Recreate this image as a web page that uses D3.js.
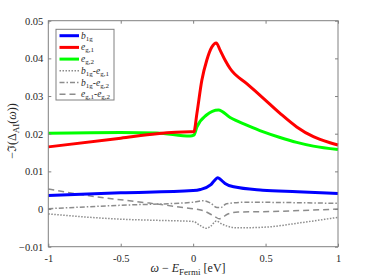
<!DOCTYPE html>
<html>
<head>
<meta charset="utf-8">
<script src="https://cdn.jsdelivr.net/npm/d3@7"></script>
<style>
  body { margin: 0; background: #fff; }
  text { font-family: "Liberation Serif", "DejaVu Serif", serif; fill: #262626; }
</style>
</head>
<body>
<div id="chart"></div>
<script>
var xTicks = [-1, -0.5, 0, 0.5, 1];
var yTicks = [-0.01, 0, 0.01, 0.02, 0.03, 0.04, 0.05];

var b1gX = [-1, -0.5, 0, 0.05, 0.12, 0.15, 0.17, 0.19, 0.22, 0.28, 0.48, 0.72, 1];
var b1gY = [0.0036, 0.0043, 0.0049, 0.0052, 0.0064, 0.0077, 0.0083, 0.0078, 0.0068, 0.0059, 0.0050, 0.0046, 0.0041];

var eg1X = [-1, -0.5, -0.25, -0.02, 0.005, 0.026, 0.06, 0.094, 0.129, 0.159, 0.186, 0.221, 0.255, 0.37, 0.485, 0.6, 0.715, 0.83, 0.945, 1];
var eg1Y = [0.0165, 0.0188, 0.0200, 0.0205, 0.0205, 0.0254, 0.0342, 0.0395, 0.0430, 0.0441, 0.0422, 0.0395, 0.0373, 0.0333, 0.0294, 0.0254, 0.0218, 0.0192, 0.0176, 0.0170];

var eg2X = [-1, -0.5, -0.25, -0.02, 0.005, 0.026, 0.09, 0.175, 0.255, 0.37, 0.485, 0.6, 0.715, 0.83, 1];
var eg2Y = [0.0201, 0.0203, 0.0202, 0.0194, 0.0196, 0.0218, 0.0249, 0.0263, 0.0243, 0.0223, 0.0205, 0.0190, 0.0177, 0.0167, 0.0158];

var d1X = [-1, -0.75, -0.5, -0.25, 0, 0.05, 0.09, 0.12, 0.16, 0.2, 0.3, 0.5, 0.75, 1];
var d1Y = [-0.0013, -0.0021, -0.0027, -0.0030, -0.0033, -0.0044, -0.0051, -0.0046, -0.0032, -0.0040, -0.0050, -0.0048, -0.0036, -0.0022];

var d2X = [-1, -0.5, 0, 0.07, 0.12, 0.165, 0.19, 0.23, 0.36, 1];
var d2Y = [0.0001, 0.0010, 0.0018, 0.0022, 0.0016, 0.0004, 0.0004, 0.0014, 0.0018, 0.0015];

var d3X = [-1, -0.68, -0.33, -0.03, 0.06, 0.15, 0.18, 0.24, 0.31, 0.48, 1];
var d3Y = [0.0053, 0.0033, 0.0017, 0.0002, -0.0003, -0.0020, -0.0026, -0.0013, -0.0008, -0.0007, 0.0000];

var series = [
  {name: "b1g", x: b1gX, y: b1gY, color: "#0000ff", width: 3, dash: null, sub: [["b", "1g"]]},
  {name: "eg1", x: eg1X, y: eg1Y, color: "#ff0000", width: 3, dash: null, sub: [["e", "g,1"]]},
  {name: "eg2", x: eg2X, y: eg2Y, color: "#00ff00", width: 3, dash: null, sub: [["e", "g,2"]]},
  {name: "b1g-eg1", x: d1X, y: d1Y, color: "#8c8c8c", width: 1.5, dash: "1.5,1.5", sub: [["b", "1g"], ["e", "g,1"]]},
  {name: "b1g-eg2", x: d2X, y: d2Y, color: "#8c8c8c", width: 1.5, dash: "5,2,1.5,2", sub: [["b", "1g"], ["e", "g,2"]]},
  {name: "eg1-eg2", x: d3X, y: d3Y, color: "#8c8c8c", width: 1.5, dash: "6,4", sub: [["e", "g,1"], ["e", "g,2"]]}
];

var width = 374, height = 277;
var margin = {top: 20.7, right: 36, bottom: 30.3, left: 48.3};

var xScale = d3.scaleLinear().domain([-1, 1]).range([margin.left, width - margin.right]);
var yScale = d3.scaleLinear().domain([-0.01, 0.05]).range([height - margin.bottom, margin.top]);

var svg = d3.select("#chart").append("svg")
    .attr("width", width)
    .attr("height", height);

var axisColor = "#808080";

// curves
var line = d3.line()
    .x(function(d) { return xScale(d[0]); })
    .y(function(d) { return yScale(d[1]); })
    .curve(d3.curveMonotoneX);

var drawOrder = [3, 4, 5, 0, 2, 1];
drawOrder.forEach(function(i) {
  var s = series[i];
  svg.append("path")
    .datum(d3.zip(s.x, s.y))
    .attr("fill", "none")
    .attr("stroke", s.color)
    .attr("stroke-width", s.width)
    .attr("stroke-dasharray", s.dash)
    .attr("stroke-linejoin", "round")
    .attr("d", line);
});

// axes
function styleAxis(g) {
  g.select(".domain").remove();
  g.selectAll(".tick line").attr("stroke", axisColor);
  g.selectAll(".tick text").attr("font-size", "10.5px").attr("fill", "#262626")
    .style("font-family", "Liberation Serif, serif");
}

var x0 = xScale.range()[0], x1 = xScale.range()[1];
var y0 = yScale.range()[0], y1 = yScale.range()[1];

svg.append("g").attr("transform", "translate(0," + y0 + ")")
  .call(d3.axisBottom(xScale).tickValues(xTicks).tickSize(-3).tickPadding(8)
    .tickFormat(function(d) { return d === 0 ? "0" : String(d).replace("-", "-"); }))
  .call(styleAxis);
svg.append("g").attr("transform", "translate(0," + y1 + ")")
  .call(d3.axisTop(xScale).tickValues(xTicks).tickSize(-3).tickFormat(""))
  .call(styleAxis);
svg.append("g").attr("transform", "translate(" + x0 + ",0)")
  .call(d3.axisLeft(yScale).tickValues(yTicks).tickSize(-3).tickPadding(5)
    .tickFormat(function(d) { return d === 0 ? "0" : d3.format(".2f")(d); }))
  .call(styleAxis);
svg.append("g").attr("transform", "translate(" + x1 + ",0)")
  .call(d3.axisRight(yScale).tickValues(yTicks).tickSize(-3).tickFormat(""))
  .call(styleAxis);

svg.append("rect")
  .attr("x", x0).attr("y", y1)
  .attr("width", x1 - x0).attr("height", y0 - y1)
  .attr("fill", "none").attr("stroke", axisColor).attr("stroke-width", 1);

// axis labels
var xl = svg.append("text")
  .attr("x", 188).attr("y", 272)
  .attr("text-anchor", "middle")
  .attr("font-size", "12px");
xl.append("tspan").attr("font-style", "italic").text("ω");
xl.append("tspan").text(" − ");
xl.append("tspan").attr("font-style", "italic").text("E");
xl.append("tspan").attr("font-size", "9px").attr("dy", 3).text("Fermi");
xl.append("tspan").attr("dy", -3).text(" [eV]");

var yl = svg.append("text")
  .attr("transform", "translate(16," + 131 + ") rotate(-90)")
  .attr("text-anchor", "middle")
  .attr("font-size", "12px");
yl.append("tspan").text("−ℑ(Δ");
yl.append("tspan").attr("font-size", "9px").attr("dy", 3).text("AI");
yl.append("tspan").attr("dy", -3).text("(");
yl.append("tspan").attr("font-style", "italic").text("ω");
yl.append("tspan").text("))");

// legend
var lg = svg.append("g");
lg.append("rect")
  .attr("x", 56).attr("y", 29.3).attr("width", 58).attr("height", 70.7)
  .attr("fill", "#fff").attr("stroke", axisColor).attr("stroke-width", 1);

series.forEach(function(s, i) {
  var cy = 35.7 + i * 11.7;
  lg.append("line")
    .attr("x1", 59.5).attr("x2", 79)
    .attr("y1", cy).attr("y2", cy)
    .attr("stroke", s.color)
    .attr("stroke-width", s.width)
    .attr("stroke-dasharray", s.dash);
  var t = lg.append("text")
    .attr("x", 81).attr("y", cy + 3)
    .attr("font-size", "9.5px");
  s.sub.forEach(function(p, j) {
    if (j > 0) t.append("tspan").attr("dy", -2).text("-");
    t.append("tspan").attr("font-style", "italic").attr("dy", j > 0 ? 0 : null).text(p[0]);
    t.append("tspan").attr("font-size", "7px").attr("dy", 2).text(p[1]);
  });
});
</script>
</body>
</html>
